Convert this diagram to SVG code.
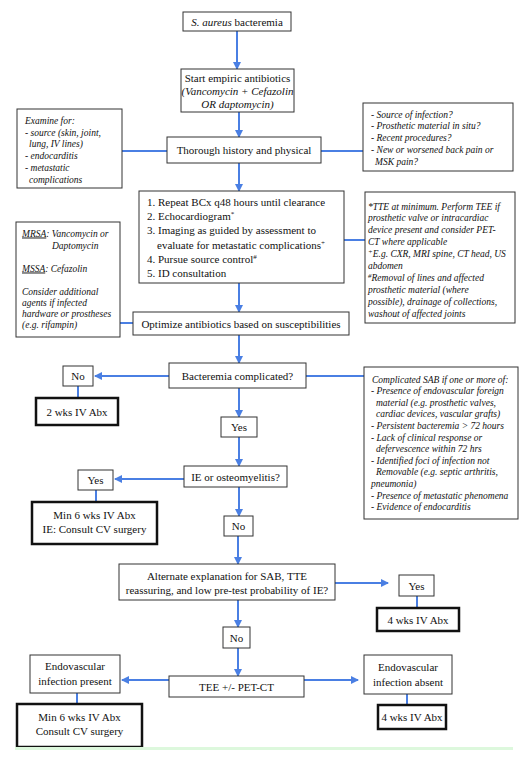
<svg xmlns="http://www.w3.org/2000/svg" width="528" height="758" viewBox="0 0 528 758">
<style>
text{font-family:"Liberation Serif","Times New Roman",serif;fill:#111}
.m{font-size:11px}
.c{text-anchor:middle}
.n{font-size:9.5px;font-style:italic}
.i{font-style:italic}
.b{fill:#fff;stroke:#333;stroke-width:1}
.t{fill:#fff;stroke:#111;stroke-width:2.5}
.l{stroke:#4a7fe3;stroke-width:2;fill:none}
.a{stroke:#4a7fe3;stroke-width:2;fill:none;marker-end:url(#ah)}
</style>
<defs>
<marker id="ah" markerUnits="userSpaceOnUse" viewBox="0 0 8 8" refX="7" refY="4" markerWidth="8" markerHeight="8" orient="auto">
<path d="M0,0 L8,4 L0,8 z" fill="#4a7fe3"/>
</marker>
</defs>
<rect x="0" y="0" width="528" height="758" fill="#fff"/>
<g id="connectors">
<line class="a" x1="237" y1="31" x2="237" y2="69"/>
<line class="a" x1="239" y1="112" x2="239" y2="137"/>
<line class="l" x1="122" y1="151" x2="167" y2="151"/>
<line class="l" x1="321" y1="151" x2="363" y2="151"/>
<line class="a" x1="239" y1="163" x2="239" y2="191"/>
<line class="l" x1="344" y1="240" x2="365" y2="240"/>
<line class="l" x1="120" y1="323" x2="133" y2="323"/>
<line class="a" x1="239" y1="283" x2="239" y2="312"/>
<line class="a" x1="239" y1="335" x2="239" y2="363"/>
<line class="a" x1="169" y1="376" x2="95" y2="376"/>
<line class="l" x1="78" y1="386" x2="78" y2="398"/>
<line class="l" x1="306" y1="376" x2="364" y2="376"/>
<line class="a" x1="239" y1="388" x2="239" y2="417"/>
<line class="a" x1="239" y1="437" x2="239" y2="466"/>
<line class="a" x1="184" y1="479" x2="115" y2="479"/>
<line class="l" x1="96" y1="490" x2="96" y2="502"/>
<line class="a" x1="239" y1="487" x2="239" y2="516"/>
<line class="a" x1="238" y1="536" x2="238" y2="564"/>
<line class="a" x1="335" y1="583" x2="388" y2="583"/>
<line class="l" x1="417" y1="596" x2="417" y2="608"/>
<line class="a" x1="238" y1="600" x2="238" y2="627"/>
<line class="a" x1="238" y1="648" x2="238" y2="676"/>
<line class="a" x1="169" y1="680" x2="122" y2="680"/>
<line class="l" x1="77" y1="693" x2="77" y2="704"/>
<line class="a" x1="304" y1="680" x2="358" y2="680"/>
<line class="l" x1="407" y1="694" x2="407" y2="705"/>
</g>
<g id="n-start">
<rect class="b" x="183" y="12" width="108" height="19"/>
<text class="m c" x="237" y="25.5"><tspan class="i">S. aureus</tspan> bacteremia</text>
</g>
<g id="n-empiric">
<rect class="b" x="181" y="69" width="113" height="43"/>
<text class="m c" x="237.5" y="82">Start empiric antibiotics</text>
<text class="m c i" x="237.5" y="95">(Vancomycin + Cefazolin</text>
<text class="m c i" x="237.5" y="108">OR daptomycin)</text>
</g>
<g id="n-examine">
<rect class="b" x="17" y="109" width="105" height="79"/>
<text class="n" x="25" y="124">Examine for:</text>
<text class="n" x="25" y="135.7">- source (skin, joint,</text>
<text class="n" x="29" y="147.4">lung, IV lines)</text>
<text class="n" x="25" y="159.1">- endocarditis</text>
<text class="n" x="25" y="170.8">- metastatic</text>
<text class="n" x="29" y="182.5">complications</text>
</g>
<g id="n-history">
<rect class="b" x="167" y="137" width="154" height="26"/>
<text class="m c" x="244" y="154">Thorough history and physical</text>
</g>
<g id="n-questions">
<rect class="b" x="363" y="103" width="150" height="68"/>
<text class="n" x="371" y="117.5">- Source of infection?</text>
<text class="n" x="371" y="129.3">- Prosthetic material in situ?</text>
<text class="n" x="371" y="141.1">- Recent procedures?</text>
<text class="n" x="371" y="152.9">- New or worsened back pain or</text>
<text class="n" x="375" y="164.7">MSK pain?</text>
</g>
<g id="n-steps">
<rect class="b" x="139" y="191" width="205" height="92"/>
<text class="m" x="147" y="206">1. Repeat BCx q48 hours until clearance</text>
<text class="m" x="147" y="220.2">2. Echocardiogram<tspan font-size="7" dy="-4">*</tspan></text>
<text class="m" x="147" y="234.4">3. Imaging as guided by assessment to</text>
<text class="m" x="157" y="248.6">evaluate for metastatic complications<tspan font-size="7" dy="-4">+</tspan></text>
<text class="m" x="147" y="262.8">4. Pursue source control<tspan font-size="7" dy="-4">#</tspan></text>
<text class="m" x="147" y="277">5. ID consultation</text>
</g>
<g id="n-footnotes">
<rect class="b" x="365" y="192" width="150" height="131"/>
<text class="n" x="368" y="209.5">*TTE at minimum. Perform TEE if</text>
<text class="n" x="368" y="221.4">prosthetic valve or intracardiac</text>
<text class="n" x="368" y="233.3">device present and consider PET-</text>
<text class="n" x="368" y="245.2">CT where applicable</text>
<text class="n" x="368" y="257.1"><tspan font-size="7" dy="-3">+</tspan><tspan dy="3">E.g. CXR, MRI spine, CT head, US</tspan></text>
<text class="n" x="368" y="269">abdomen</text>
<text class="n" x="368" y="280.9"><tspan font-size="7" dy="-3">#</tspan><tspan dy="3">Removal of lines and affected</tspan></text>
<text class="n" x="368" y="292.8">prosthetic material (where</text>
<text class="n" x="368" y="304.7">possible), drainage of collections,</text>
<text class="n" x="368" y="316.6">washout of affected joints</text>
</g>
<g id="n-abx">
<rect class="b" x="16" y="222" width="104" height="115"/>
<text class="n" x="22" y="236.5"><tspan text-decoration="underline">MRSA</tspan>: Vancomycin or</text>
<text class="n" x="52" y="248.5">Daptomycin</text>
<text class="n" x="22" y="271.5"><tspan text-decoration="underline">MSSA</tspan>: Cefazolin</text>
<text class="n" x="22" y="294.5">Consider additional</text>
<text class="n" x="22" y="305.8">agents if infected</text>
<text class="n" x="22" y="317.1">hardware or prostheses</text>
<text class="n" x="22" y="328.4">(e.g. rifampin)</text>
</g>
<g id="n-optimize">
<rect class="b" x="133" y="312" width="216" height="23"/>
<text class="m c" x="241" y="327.5">Optimize antibiotics based on susceptibilities</text>
</g>
<g id="n-complicated">
<rect class="b" x="169" y="363" width="137" height="25"/>
<text class="m c" x="237.5" y="379.5">Bacteremia complicated?</text>
</g>
<g id="n-no1">
<rect class="b" x="63" y="366" width="30" height="20"/>
<text class="m c" x="78" y="380">No</text>
</g>
<g id="n-2wks">
<rect class="t" x="36" y="398" width="82" height="27"/>
<text class="m c" x="77" y="415.5">2 wks IV Abx</text>
</g>
<g id="n-criteria">
<rect class="b" x="364" y="367" width="154" height="152"/>
<text class="n" x="372" y="382.5">Complicated SAB if one or more of:</text>
<text class="n" x="371" y="394.1">- Presence of endovascular foreign</text>
<text class="n" x="376" y="405.7">material (e.g. prosthetic valves,</text>
<text class="n" x="376" y="417.3">cardiac devices, vascular grafts)</text>
<text class="n" x="371" y="428.9">- Persistent bacteremia &gt; 72 hours</text>
<text class="n" x="371" y="440.5">- Lack of clinical response or</text>
<text class="n" x="376" y="452.1">defervescence within 72 hrs</text>
<text class="n" x="371" y="463.7">- Identified foci of infection not</text>
<text class="n" x="376" y="475.3">Removable (e.g. septic arthritis,</text>
<text class="n" x="371" y="486.9">pneumonia)</text>
<text class="n" x="371" y="498.5">- Presence of metastatic phenomena</text>
<text class="n" x="371" y="510.1">- Evidence of endocarditis</text>
</g>
<g id="n-yes1">
<rect class="b" x="221" y="417" width="36" height="20"/>
<text class="m c" x="239" y="431">Yes</text>
</g>
<g id="n-ie">
<rect class="b" x="184" y="466" width="103" height="21"/>
<text class="m c" x="235.5" y="480.5">IE or osteomyelitis?</text>
</g>
<g id="n-yes2">
<rect class="b" x="78" y="470" width="35" height="20"/>
<text class="m c" x="95.5" y="484">Yes</text>
</g>
<g id="n-6wks1">
<rect class="t" x="32" y="502" width="125" height="42"/>
<text class="m c" x="94.5" y="519">Min 6 wks IV Abx</text>
<text class="m c" x="94.5" y="533">IE: Consult CV surgery</text>
</g>
<g id="n-no2">
<rect class="b" x="224" y="516" width="29" height="20"/>
<text class="m c" x="238.5" y="530">No</text>
</g>
<g id="n-alt">
<rect class="b" x="119" y="564" width="216" height="36"/>
<text class="m c" x="227" y="580">Alternate explanation for SAB, TTE</text>
<text class="m c" x="227" y="594">reassuring, and low pre-test probability of IE?</text>
</g>
<g id="n-yes3">
<rect class="b" x="399" y="575" width="35" height="21"/>
<text class="m c" x="416.5" y="589.5">Yes</text>
</g>
<g id="n-4wks1">
<rect class="t" x="377" y="608" width="82" height="23"/>
<text class="m c" x="418" y="623.5">4 wks IV Abx</text>
</g>
<g id="n-no3">
<rect class="b" x="223" y="627" width="27" height="21"/>
<text class="m c" x="236.5" y="641.5">No</text>
</g>
<g id="n-tee">
<rect class="b" x="169" y="676" width="135" height="21"/>
<text class="m c" x="236.5" y="690.5">TEE +/- PET-CT</text>
</g>
<g id="n-present">
<rect class="b" x="30" y="655" width="90" height="38"/>
<text class="m c" x="75" y="670">Endovascular</text>
<text class="m c" x="75" y="684.5">infection present</text>
</g>
<g id="n-6wks2">
<rect class="t" x="17" y="704" width="125" height="43"/>
<text class="m c" x="79.5" y="721">Min 6 wks IV Abx</text>
<text class="m c" x="79.5" y="735">Consult CV surgery</text>
</g>
<g id="n-absent">
<rect class="b" x="364" y="655" width="88" height="39"/>
<text class="m c" x="408" y="671">Endovascular</text>
<text class="m c" x="408" y="685.5">infection absent</text>
</g>
<g id="n-4wks2">
<rect class="t" x="378" y="705" width="68" height="24"/>
<text class="m c" x="412" y="721">4 wks IV Abx</text>
</g>
<rect x="15" y="747" width="498" height="3" fill="#ddf8dd"/>
</svg>
